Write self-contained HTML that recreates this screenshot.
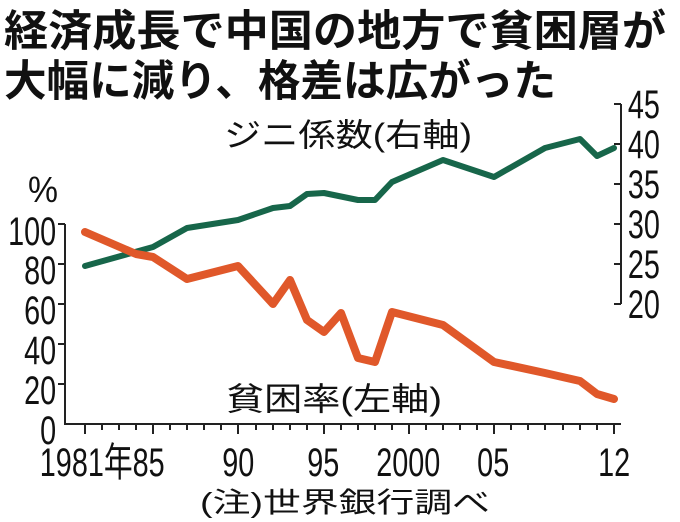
<!DOCTYPE html>
<html><head><meta charset="utf-8"><style>
body{margin:0;background:#fff;}
svg{display:block;}
text{font-family:"Liberation Sans","Noto Sans CJK JP",sans-serif;fill:#111;}
</style></head><body>
<svg width="680" height="522" viewBox="0 0 680 522">
<text x="4" y="46" font-size="43" font-weight="bold" textLength="662" lengthAdjust="spacingAndGlyphs">経済成長で中国の地方で貧困層が</text>
<text x="4" y="96" font-size="43" font-weight="bold" textLength="552" lengthAdjust="spacingAndGlyphs">大幅に減り、格差は広がった</text>
<text x="224" y="146" font-size="32" textLength="248" lengthAdjust="spacingAndGlyphs">ジニ係数(右軸)</text>
<text x="226" y="410" font-size="32" textLength="216" lengthAdjust="spacingAndGlyphs">貧困率(左軸)</text>
<text x="200" y="512" font-size="28" textLength="290" lengthAdjust="spacingAndGlyphs">(注)世界銀行調べ</text>
<text x="28" y="202" font-size="36" textLength="30" lengthAdjust="spacingAndGlyphs">%</text>
<g font-size="40" text-anchor="end" transform="scale(0.72 1)">
<text x="78" y="245">100</text><text x="78" y="284">80</text><text x="78" y="324">60</text><text x="78" y="364">40</text><text x="78" y="404">20</text><text x="78" y="444">0</text>
</g>
<g font-size="40" transform="scale(0.72 1)">
<text x="872" y="118">45</text><text x="872" y="158">40</text><text x="872" y="198">35</text><text x="872" y="238">30</text><text x="872" y="278">25</text><text x="872" y="318">20</text>
</g>
<g font-size="40" text-anchor="middle" transform="scale(0.72 1)">
<text x="142" y="476">1981年85</text>
<text x="331" y="476">90</text><text x="449" y="476">95</text><text x="567" y="476">2000</text>
<text x="685" y="476">05</text><text x="853" y="476">12</text>
</g>
<g stroke="#222" stroke-width="2" fill="none">
<path d="M65 224V424H621"/>
<path d="M58 224H65M58 264H65M58 304H65M58 344H65M58 384H65"/>
<path d="M621 104V304M614 104H621M614 144H621M614 184H621M614 224H621M614 264H621M614 304H621"/>
<path d="M85 424v10M102 424v6M119 424v6M136 424v6M153 424v10M170 424v6M187 424v6M204 424v6M221 424v6M238 424v10M256 424v6M273 424v6M290 424v6M307 424v6M324 424v10M341 424v6M358 424v6M375 424v6M392 424v6M409 424v10M426 424v6M443 424v6M460 424v6M477 424v6M494 424v10M511 424v6M528 424v6M545 424v6M563 424v6M580 424v6M597 424v6M614 424v10"/>
</g>
<polyline fill="none" stroke="#17664a" stroke-width="6" stroke-linejoin="round" stroke-linecap="round"
points="85,266 153,247 187,228 238,220 273,208 290,206 307,194 324,193 358,200 375,200 392,182 443,160 494,177 545,148 580,139 597,156 614,148"/>
<polyline fill="none" stroke="#e0582a" stroke-width="8" stroke-linejoin="round" stroke-linecap="round"
points="85,232 136,254 153,257 187,279 238,266 273,304 290,280 307,320 324,332 341,313 358,358 375,362 392,312 443,325 494,362 545,373 580,381 597,394 614,399"/>
</svg>
</body></html>
